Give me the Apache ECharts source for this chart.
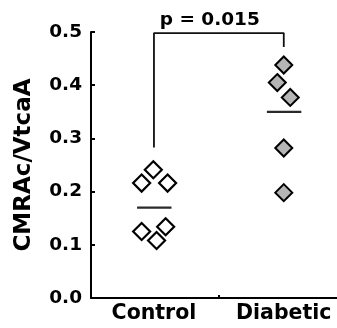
<!DOCTYPE html>
<html><head><meta charset="utf-8">
<script src="https://cdn.jsdelivr.net/npm/echarts@6/dist/echarts.min.js"></script>
<style>html,body{margin:0;padding:0;background:#fff}#c{width:337px;height:328px}</style>
</head><body><div id="c"></div>
<script>
var categories = ['Control', 'Diabetic'];
var categoryPos = [1, 2];
var yTicks = [0.0, 0.1, 0.2, 0.3, 0.4, 0.5];
var controlX = [0.995, 0.905, 1.105, 0.905, 1.09, 1.02];
var controlY = [0.241, 0.216, 0.216, 0.125, 0.134, 0.108];
var diabeticX = [2.0, 1.95, 2.05, 2.0, 2.0];
var diabeticY = [0.438, 0.405, 0.377, 0.282, 0.198];
var meanValues = [0.170, 0.350];
var meanHalfLeft = 0.13, meanHalfRight = 0.135;
var bracketLeftLow = 0.283, bracketTop = 0.498, bracketRightLow = 0.472;
var pLabel = 'p = 0.015';
var pLabelPos = [1.43, 0.523];

var font = 'DejaVu Sans';
function pairs(xs, ys){ return xs.map(function(x,i){ return [x, ys[i]]; }); }

var chart = echarts.init(document.getElementById('c'), null, {renderer:'canvas'});
var series = [];
series.push({type:'scatter', data: pairs(controlX, controlY), symbol:'diamond', symbolSize:[17,17],
  itemStyle:{color:'#ffffff', borderColor:'#000', borderWidth:2.2, opacity:1}, z:5, silent:true});
series.push({type:'scatter', data: pairs(diabeticX, diabeticY), symbol:'diamond', symbolSize:[17,17],
  itemStyle:{color:'#b5b5b5', borderColor:'#000', borderWidth:2, opacity:1}, z:5, silent:true});
meanValues.forEach(function(m, i){
  var c = categoryPos[i];
  series.push({type:'line', data:[[c-meanHalfLeft, m],[c+meanHalfRight, m]], symbol:'none',
    lineStyle:{color:'#2a2a2a', width:2.2}, z:4, silent:true});
});
series.push({type:'line', clip:false, data:[[categoryPos[0], bracketLeftLow],[categoryPos[0], bracketTop],[categoryPos[1], bracketTop],[categoryPos[1], bracketRightLow]],
  symbol:'none', lineStyle:{color:'#111', width:1.8}, z:3, silent:true});
series.push({type:'line', clip:false, data:[pLabelPos], symbol:'circle', symbolSize:1, showSymbol:true,
  itemStyle:{color:'rgba(0,0,0,0)', opacity:1}, lineStyle:{width:0}, silent:true,
  label:{show:true, position:'inside', formatter:pLabel, color:'#000', opacity:1, textBorderWidth:0,
    fontFamily:font, fontWeight:'bold', fontSize:18.5}});

chart.setOption({
  animation:false,
  backgroundColor:'#fff',
  grid:{left:91, right:0, top:32, bottom:30},
  xAxis:{type:'value', min:0.515, max:2.41,
    axisLine:{show:true, onZero:false, lineStyle:{color:'#000', width:2}},
    axisTick:{show:true, inside:true, length:3, customValues:[1.5], lineStyle:{color:'#000', width:2}},
    axisLabel:{show:true, customValues:categoryPos, margin:5, color:'#000', fontFamily:font, fontWeight:'bold', fontSize:20.5,
      formatter:function(v){ var i = categoryPos.indexOf(v); return i>=0 ? categories[i] : ''; }},
    splitLine:{show:false}},
  yAxis:{type:'value', min:0, max:0.5, interval:0.1,
    name:'CMRAc/VtcaA', nameLocation:'middle', nameGap:55, nameRotate:90,
    nameTextStyle:{color:'#000', fontFamily:font, fontWeight:'bold', fontSize:23},
    axisLine:{show:true, lineStyle:{color:'#000', width:2}},
    axisTick:{show:true, inside:true, length:4, lineStyle:{color:'#000', width:2}},
    axisLabel:{margin:9, color:'#000', fontFamily:font, fontWeight:'bold', fontSize:18.5,
      formatter:function(v){ return v.toFixed(1); }},
    splitLine:{show:false}},
  series: series
});
</script></body></html>
